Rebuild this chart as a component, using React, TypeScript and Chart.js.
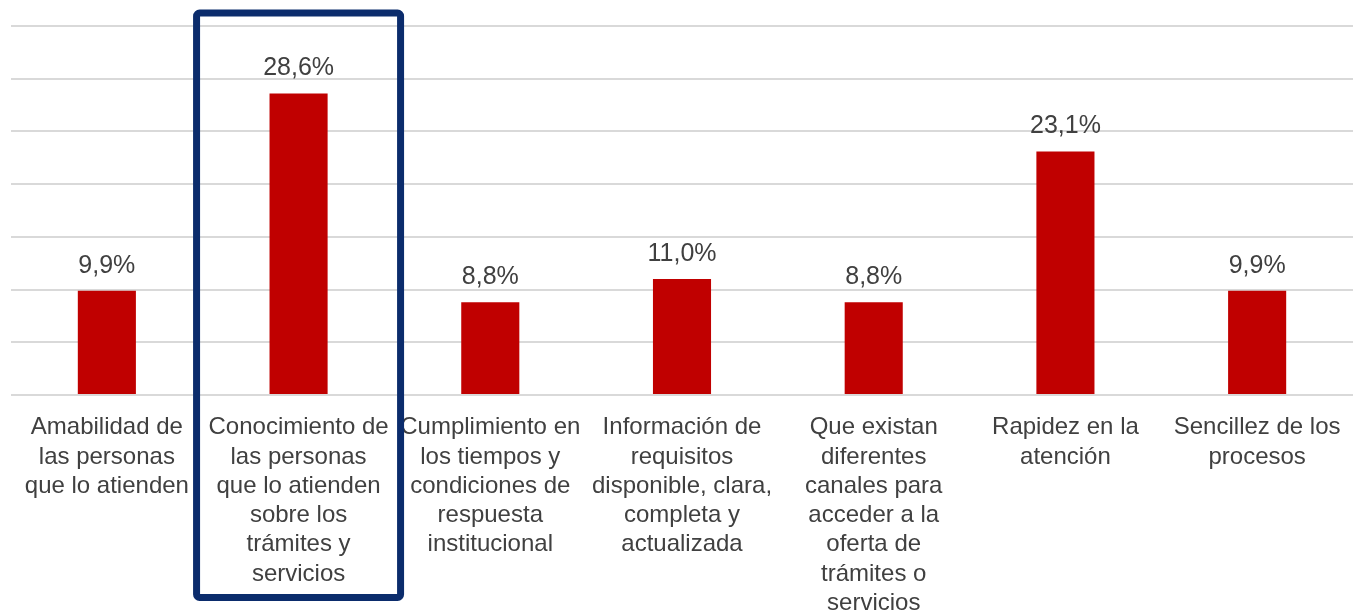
import React, { useEffect, useRef } from "react";
import { Chart, registerables } from "chart.js";

Chart.register(...registerables);

const categories: string[][] = [
  ["Amabilidad de", "las personas", "que lo atienden"],
  ["Conocimiento de", "las personas", "que lo atienden", "sobre los", "trámites y", "servicios"],
  ["Cumplimiento en", "los tiempos y", "condiciones de", "respuesta", "institucional"],
  ["Información de", "requisitos", "disponible, clara,", "completa y", "actualizada"],
  ["Que existan", "diferentes", "canales para", "acceder a la", "oferta de", "trámites o", "servicios"],
  ["Rapidez en la", "atención"],
  ["Sencillez de los", "procesos"],
];

const values: number[] = [9.9, 28.6, 8.8, 11.0, 8.8, 23.1, 9.9];

const highlightIndex = 1;

const FONT = "'Liberation Sans', Arial, sans-serif";
const TEXT = "#404040";

const valueLabels = {
  id: "valueLabels",
  afterDatasetsDraw(chart: any) {
    const ctx = chart.ctx;
    const meta = chart.getDatasetMeta(0);
    ctx.save();
    ctx.font = `25px ${FONT}`;
    ctx.fillStyle = TEXT;
    ctx.textAlign = "center";
    ctx.textBaseline = "alphabetic";
    meta.data.forEach((bar: any, i: number) => {
      const v = values[i];
      const txt = v.toFixed(1).replace(".", ",") + "%";
      ctx.fillText(txt, bar.x, bar.y - 18);
    });
    ctx.restore();
  },
};

const highlightBox = {
  id: "highlightBox",
  afterDraw(chart: any) {
    const ctx = chart.ctx;
    const x = chart.scales.x;
    const cx = x.getPixelForValue(highlightIndex);
    const left = cx - 102;
    const right = cx + 102;
    const top = chart.chartArea.top - 13;
    const bottom = chart.height - 13.5;
    ctx.save();
    ctx.strokeStyle = "#0B2C6C";
    ctx.lineWidth = 7;
    ctx.lineJoin = "round";
    ctx.beginPath();
    if (ctx.roundRect) {
      ctx.roundRect(left, top, right - left, bottom - top, 3);
    } else {
      ctx.rect(left, top, right - left, bottom - top);
    }
    ctx.stroke();
    ctx.restore();
  },
};

export default function App() {
  const ref = useRef<HTMLCanvasElement>(null);

  useEffect(() => {
    if (!ref.current) return;
    const chart = new Chart(ref.current, {
      type: "bar",
      data: {
        labels: categories,
        datasets: [
          {
            data: values,
            backgroundColor: "#C00000",
            borderWidth: 0,
            categoryPercentage: 1,
            barPercentage: 0.303,
          },
        ],
      },
      options: {
        responsive: false,
        animation: false,
        layout: { padding: { left: 11, right: 0, top: 26, bottom: 0 } },
        plugins: {
          legend: { display: false },
          tooltip: { enabled: false },
          title: { display: false },
        },
        scales: {
          x: {
            grid: { display: false },
            border: { display: false },
            ticks: {
              color: TEXT,
              font: { family: FONT, size: 24, lineHeight: 1.22 },
              maxRotation: 0,
              minRotation: 0,
              autoSkip: false,
              padding: 10,
            },
            afterFit: (scale: any) => {
              scale.height = 216;
            },
          },
          y: {
            min: 0,
            max: 35,
            ticks: { display: false, stepSize: 5 },
            grid: { color: "#D9D9D9", lineWidth: 2, drawTicks: false },
            border: { display: false },
          },
        },
      },
      plugins: [valueLabels, highlightBox],
    });
    return () => chart.destroy();
  }, []);

  return (
    <div style={{ position: "fixed", left: 0, top: 0, width: 1353, height: 611, background: "#fff", overflow: "hidden" }}>
      <canvas ref={ref} width={1353} height={611} style={{ display: "block" }} />
    </div>
  );
}
